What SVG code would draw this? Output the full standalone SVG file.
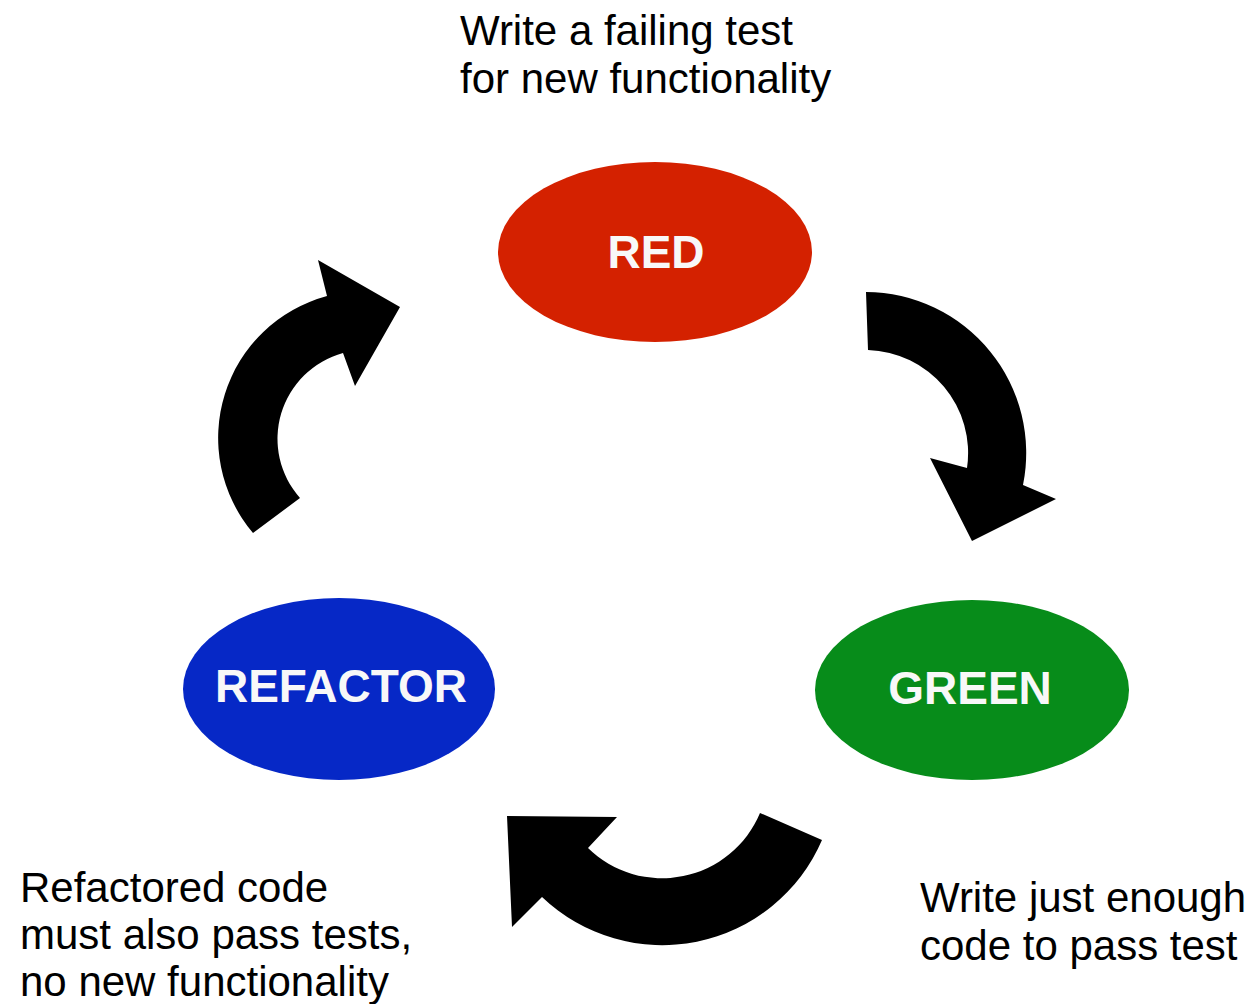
<svg xmlns="http://www.w3.org/2000/svg" width="1253" height="1004" viewBox="0 0 1253 1004">
  <style>
    .note { font-family: "Liberation Sans", Arial, sans-serif; font-size: 42px; fill: #000000; }
    .stage { font-family: "Liberation Sans", Arial, sans-serif; font-size: 46px; font-weight: bold; fill: #f8f8f8; text-anchor: middle; }
    .flow { fill: #000000; stroke: none; }
  </style>
  <rect width="1253" height="1004" fill="#ffffff"/>

  <!-- stage nodes -->
  <g id="red">
    <ellipse cx="655" cy="252" rx="157" ry="90" fill="#d42100"/>
    <text class="stage" x="656" y="268">RED</text>
  </g>
  <g id="green">
    <ellipse cx="972" cy="690" rx="157" ry="90" fill="#078c1a"/>
    <text class="stage" x="970" y="704">GREEN</text>
  </g>
  <g id="refactor">
    <ellipse cx="339" cy="689" rx="156" ry="91" fill="#0628c6"/>
    <text class="stage" x="341" y="702">REFACTOR</text>
  </g>

  <!-- curved block arrows between the stages -->
  <g id="connectors">
    <!-- RED to GREEN -->
    <path class="flow" d="M 866,292 A 161 161 0 0 1 1023,485 L 1056,499 L 972,541 L 930,458 L 967,468 A 103 103 0 0 0 868,350 Z"/>
    <!-- GREEN to REFACTOR -->
    <path class="flow" d="M 760,813 A 106 106 0 0 1 588,848 L 617,817 L 507,816 L 512,927 L 542,897 A 174 174 0 0 0 822,840 Z"/>
    <!-- REFACTOR to RED -->
    <path class="flow" d="M 300,498 A 89 89 0 0 1 343,353 L 355,386 L 400,307 L 318,260 L 327,296 A 147 147 0 0 0 253,533 Z"/>
  </g>

  <!-- stage descriptions -->
  <g id="note-red">
    <text class="note" x="460" y="45">Write a failing test</text>
    <text class="note" x="460" y="93">for new functionality</text>
  </g>
  <g id="note-green">
    <text class="note" x="920" y="912">Write just enough</text>
    <text class="note" x="920" y="960">code to pass test</text>
  </g>
  <g id="note-refactor">
    <text class="note" x="20" y="902">Refactored code</text>
    <text class="note" x="20" y="949">must also pass tests,</text>
    <text class="note" x="20" y="996">no new functionality</text>
  </g>
</svg>
